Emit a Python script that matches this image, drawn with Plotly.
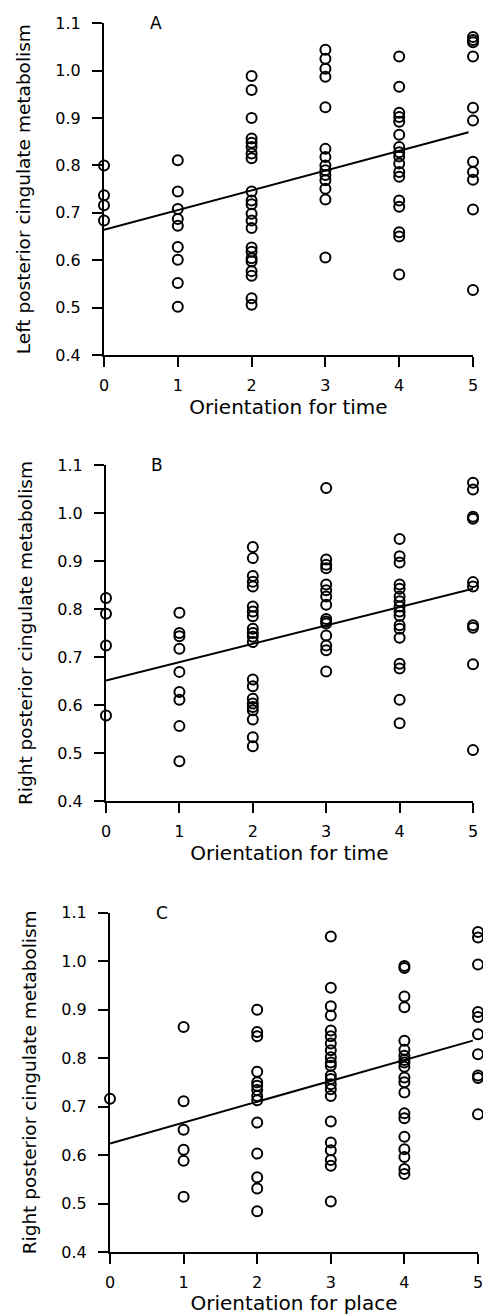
import plotly.graph_objects as go

# ---------------- data ----------------
# Panel A: Orientation for time vs left posterior cingulate metabolism
a_x0 = [0.80, 0.737, 0.716, 0.684]
a_x1 = [0.811, 0.745, 0.708, 0.687, 0.673, 0.628, 0.601, 0.552, 0.502]
a_x2 = [0.989, 0.959, 0.900, 0.857, 0.848, 0.839, 0.825, 0.815, 0.745, 0.726,
        0.718, 0.698, 0.684, 0.668, 0.627, 0.618, 0.604, 0.598, 0.577, 0.567,
        0.520, 0.506]
a_x3 = [1.044, 1.025, 1.004, 0.987, 0.923, 0.835, 0.818, 0.800, 0.790, 0.780,
        0.769, 0.751, 0.728, 0.606]
a_x4 = [1.030, 0.966, 0.911, 0.902, 0.892, 0.865, 0.839, 0.828, 0.819, 0.804,
        0.786, 0.776, 0.726, 0.713, 0.659, 0.650, 0.570]
a_x5 = [1.071, 1.065, 1.060, 1.030, 0.922, 0.895, 0.808, 0.786, 0.770, 0.707, 0.537]
a_fit_x = [0, 4.94]
a_fit_y = [0.664, 0.870]

# Panel B: Orientation for time vs right posterior cingulate metabolism
b_x0 = [0.823, 0.790, 0.724, 0.578]
b_x1 = [0.792, 0.750, 0.743, 0.717, 0.669, 0.627, 0.611, 0.556, 0.483]
b_x2 = [0.929, 0.906, 0.869, 0.857, 0.847, 0.805, 0.795, 0.785, 0.759, 0.750,
        0.742, 0.731, 0.653, 0.639, 0.613, 0.603, 0.596, 0.589, 0.570, 0.533,
        0.514]
b_x3 = [1.052, 0.903, 0.892, 0.885, 0.851, 0.839, 0.826, 0.809, 0.779, 0.774,
        0.770, 0.745, 0.724, 0.714, 0.670]
b_x4 = [0.946, 0.910, 0.897, 0.851, 0.842, 0.826, 0.816, 0.805, 0.795, 0.786,
        0.766, 0.759, 0.740, 0.686, 0.676, 0.611, 0.562]
b_x5 = [1.063, 1.049, 0.992, 0.988, 0.856, 0.847, 0.766, 0.761, 0.685, 0.506]
b_fit_x = [0, 5]
b_fit_y = [0.651, 0.842]

# Panel C: Orientation for place vs right posterior cingulate metabolism
c_x0 = [0.716]
c_x1 = [0.864, 0.711, 0.652, 0.611, 0.588, 0.514]
c_x2 = [0.900, 0.854, 0.845, 0.772, 0.750, 0.743, 0.734, 0.722, 0.713, 0.667,
        0.603, 0.554, 0.531, 0.484]
c_x3 = [1.051, 0.945, 0.907, 0.888, 0.857, 0.845, 0.830, 0.816, 0.802, 0.791,
        0.784, 0.764, 0.757, 0.746, 0.736, 0.722, 0.669, 0.626, 0.610, 0.590,
        0.578, 0.504]
c_x4 = [0.990, 0.986, 0.927, 0.905, 0.836, 0.817, 0.805, 0.796, 0.791, 0.782,
        0.760, 0.750, 0.729, 0.686, 0.676, 0.638, 0.612, 0.596, 0.571, 0.561]
c_x5 = [1.060, 1.049, 0.993, 0.895, 0.885, 0.849, 0.808, 0.764, 0.759, 0.684]
c_fit_x = [0, 4.93]
c_fit_y = [0.624, 0.836]

x_ticks = [0, 1, 2, 3, 4, 5]
y_ticks = [0.4, 0.5, 0.6, 0.7, 0.8, 0.9, 1.0, 1.1]
y_tick_text = ["0.4", "0.5", "0.6", "0.7", "0.8", "0.9", "1.0", "1.1"]

panels = [
    dict(label="A", groups=[a_x0, a_x1, a_x2, a_x3, a_x4, a_x5], fx=a_fit_x, fy=a_fit_y,
         xtitle="Orientation for time", ytitle="Left posterior cingulate metabolism"),
    dict(label="B", groups=[b_x0, b_x1, b_x2, b_x3, b_x4, b_x5], fx=b_fit_x, fy=b_fit_y,
         xtitle="Orientation for time", ytitle="Right posterior cingulate metabolism"),
    dict(label="C", groups=[c_x0, c_x1, c_x2, c_x3, c_x4, c_x5], fx=c_fit_x, fy=c_fit_y,
         xtitle="Orientation for place", ytitle="Right posterior cingulate metabolism"),
]

# ---------------- layout geometry ----------------
W, H = 483, 1315
x_domains = [[104 / W, 473 / W], [106 / W, 473 / W], [110 / W, 478 / W]]
y_domains = [[1 - 355 / H, 1 - 23.3 / H], [1 - 801 / H, 1 - 465 / H], [1 - 1252 / H, 1 - 912.7 / H]]

FONT = "DejaVu Sans"
fig = go.Figure()
layout = dict(
    width=W, height=H,
    margin=dict(l=0, r=0, t=0, b=0),
    paper_bgcolor="white", plot_bgcolor="white",
    showlegend=False,
    font=dict(family=FONT, color="black"),
)
annotations = []

for i, p in enumerate(panels):
    n = "" if i == 0 else str(i + 1)
    xa, ya = "x" + n, "y" + n
    xs, ys = [], []
    for k, g in enumerate(p["groups"]):
        xs += [x_ticks[k]] * len(g)
        ys += g
    fig.add_trace(go.Scatter(
        x=xs, y=ys, mode="markers", xaxis=xa, yaxis=ya, cliponaxis=False,
        marker=dict(symbol="circle-open", size=10, color="black", line=dict(width=2, color="black")),
    ))
    fig.add_trace(go.Scatter(
        x=p["fx"], y=p["fy"], mode="lines", xaxis=xa, yaxis=ya, cliponaxis=False,
        line=dict(color="black", width=2),
    ))
    layout["xaxis" + n] = dict(
        domain=x_domains[i], anchor=ya, range=[0, 5], fixedrange=True,
        tickvals=x_ticks, ticks="outside", ticklen=10, tickwidth=1.6, tickcolor="black",
        showline=True, linecolor="black", linewidth=2.2, showgrid=False, zeroline=False,
        tickfont=dict(family=FONT, size=16), ticklabelstandoff=5, ticklabeloverflow="allow",
        title=dict(text=p["xtitle"], font=dict(family=FONT, size=20), standoff=4),
        automargin=False,
    )
    layout["yaxis" + n] = dict(
        domain=y_domains[i], anchor=xa, range=[0.4, 1.1], fixedrange=True,
        tickvals=y_ticks, ticktext=y_tick_text, ticks="outside", ticklen=10, tickwidth=1.6,
        tickcolor="black", showline=True, linecolor="black", linewidth=2.2,
        showgrid=False, zeroline=False,
        tickfont=dict(family=FONT, size=16), ticklabelstandoff=8, ticklabeloverflow="allow",
        title=dict(text=p["ytitle"], font=dict(family=FONT, size=18.5), standoff=20),
        automargin=False,
    )
    annotations.append(dict(
        text=p["label"], xref=xa + " domain", yref=ya + " domain", x=0.14, y=1.0,
        xanchor="center", yanchor="middle", showarrow=False,
        font=dict(family=FONT, size=17, color="black"),
    ))

layout["annotations"] = annotations
fig.update_layout(**layout)
fig.write_html("out.html", config={"displayModeBar": False},
               post_script="document.body.style.margin='0';")
